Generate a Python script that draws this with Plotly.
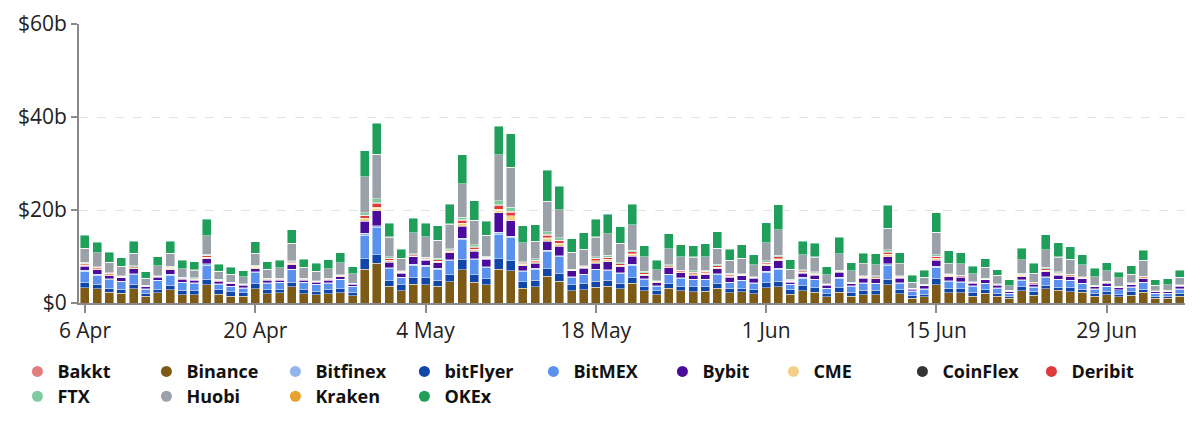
import plotly.graph_objects as go
import pandas as pd

# ---- data (USD billions, daily) ----
dates = pd.date_range("2020-04-06", periods=91, freq="D")

binance = [3.3,3.1,2.3,2.1,3.1,1.5,2.2,2.8,1.8,1.8,3.9,1.9,1.5,1.5,3.1,
           2.0,2.2,3.5,2.0,1.8,2.0,2.2,1.6,7.3,8.5,3.6,2.6,4.0,3.9,3.6,4.6,
           7.2,4.5,3.9,7.3,6.9,3.2,3.5,5.8,4.7,2.6,2.8,3.4,3.6,3.1,4.2,
           2.6,1.8,3.2,2.6,2.4,2.5,3.2,2.2,2.4,2.0,3.3,3.5,1.9,2.6,2.3,
           1.3,2.3,1.5,1.8,1.8,3.9,2.0,1.0,1.3,3.9,2.2,2.2,1.5,2.1,1.5,
           1.0,2.6,1.7,3.1,2.7,2.4,2.3,1.5,1.8,1.3,1.7,2.3,1.0,1.0,1.5]
bitflyer = [1.1,0.9,0.9,0.9,0.9,0.6,0.7,1.0,0.9,0.8,1.2,0.9,0.9,0.7,1.0,
            0.9,0.7,1.0,0.9,0.7,0.9,0.9,0.7,2.2,1.9,1.2,1.3,1.5,1.5,1.3,1.6,
            2.2,1.6,1.3,2.2,2.2,1.4,1.4,1.6,1.7,1.3,1.4,1.3,1.3,1.2,1.2,
            0.9,0.8,0.9,1.0,1.1,1.0,1.0,1.0,0.7,0.8,1.1,1.2,0.9,1.1,1.0,
            0.7,1.1,0.7,0.9,0.8,1.2,0.9,0.6,0.6,1.4,1.0,0.9,0.7,0.7,0.6,
            0.5,0.9,0.7,0.7,0.7,0.9,0.7,0.6,0.7,0.6,0.7,0.7,0.5,0.4,0.6]
bitmex = [2.4,2.0,1.85,1.55,2.1,0.9,1.85,2.2,1.65,1.65,3.05,1.2,1.1,1.0,2.4,
          1.4,1.45,2.6,1.5,1.4,1.4,1.85,1.2,5.1,5.75,2.6,1.5,2.6,2.5,2.4,2.85,
          4.15,3.15,2.4,5.3,4.9,2.1,2.4,3.6,3.5,1.65,1.85,2.4,2.1,2.05,2.7,
          1.55,1.0,1.95,1.65,1.5,1.5,1.95,1.2,1.65,1.5,2.2,2.6,1.1,1.65,1.65,
          1.1,1.95,1.4,1.55,1.5,3.05,1.4,0.9,1.1,2.4,1.5,1.4,1.4,1.3,1.1,
          0.55,1.4,1.0,1.75,1.6,1.5,1.2,0.9,1.0,0.9,1.0,1.4,0.55,0.65,0.9]
bitfinex = [0.2,0.2,0.15,0.15,0.2,0.1,0.15,0.2,0.15,0.15,0.25,0.1,0.1,0.1,0.2,
            0.1,0.15,0.2,0.1,0.1,0.1,0.15,0.1,0.4,0.45,0.2,0.1,0.2,0.2,0.2,0.25,
            0.35,0.25,0.2,0.4,0.4,0.2,0.2,0.3,0.3,0.15,0.15,0.2,0.2,0.15,0.2,
            0.15,0.1,0.15,0.15,0.1,0.1,0.15,0.1,0.15,0.1,0.2,0.2,0.1,0.15,0.15,
            0.1,0.15,0.1,0.15,0.1,0.25,0.1,0.1,0.1,0.2,0.1,0.1,0.1,0.1,0.1,
            0.05,0.1,0.1,0.15,0.1,0.1,0.1,0.1,0.1,0.1,0.1,0.1,0.05,0.05,0.1]
bybit = [0.9,1.0,0.7,0.7,1.1,0.4,0.6,1.0,0.6,0.5,1.1,0.6,0.6,0.5,0.7,
         0.5,0.4,0.9,0.4,0.5,0.5,0.6,0.4,2.6,3.2,1.2,0.9,1.6,1.1,1.2,1.5,
         2.6,1.6,1.6,4.2,3.3,1.1,1.1,2.0,2.0,1.2,1.3,1.3,1.7,1.3,1.8,
         0.7,0.7,1.4,1.1,0.9,1.0,1.1,1.0,1.0,0.9,1.2,1.6,0.5,0.9,0.9,
         0.6,1.1,0.4,0.9,1.0,1.5,0.9,0.4,0.6,1.3,0.9,0.9,0.5,0.8,0.5,
         0.3,0.7,0.5,1.0,0.9,0.8,0.9,0.4,0.7,0.4,0.4,0.7,0.4,0.4,0.5]
cme = [0.25,0.18,0.2,0.15,0.18,0.1,0.12,0.22,0.12,0.15,0.3,0.12,0.1,0.1,0.2,
       0.12,0.12,0.28,0.12,0.1,0.12,0.12,0.1,0.5,0.6,0.35,0.18,0.2,0.22,0.28,0.25,
       0.55,0.42,0.2,0.6,0.85,0.28,0.25,0.6,0.55,0.12,0.15,0.45,0.4,0.28,0.4,
       0.25,0.12,0.18,0.18,0.28,0.3,0.25,0.28,0.12,0.12,0.32,0.35,0.18,0.24,0.2,
       0.1,0.15,0.12,0.18,0.2,0.45,0.18,0.06,0.1,0.35,0.18,0.15,0.12,0.1,0.12,
       0.1,0.2,0.15,0.3,0.2,0.15,0.12,0.1,0.12,0.1,0.15,0.18,0.03,0.06,0.1]
kraken = [0.05,0.04,0.03,0.03,0.04,0.02,0.02,0.04,0.02,0.03,0.06,0.02,0.02,0.02,0.04,
          0.02,0.02,0.05,0.02,0.02,0.02,0.02,0.02,0.11,0.15,0.07,0.04,0.04,0.04,0.05,0.05,
          0.12,0.08,0.04,0.16,0.2,0.05,0.05,0.12,0.11,0.02,0.03,0.08,0.08,0.05,0.08,
          0.05,0.02,0.04,0.04,0.05,0.06,0.05,0.05,0.02,0.02,0.07,0.07,0.04,0.05,0.04,
          0.02,0.03,0.02,0.04,0.04,0.09,0.04,0.01,0.02,0.07,0.04,0.03,0.02,0.02,0.02,
          0.02,0.04,0.03,0.06,0.04,0.03,0.02,0.02,0.02,0.02,0.03,0.04,0.01,0.01,0.02]
deribit = [0.28,0.18,0.18,0.15,0.18,0.09,0.12,0.2,0.12,0.15,0.32,0.12,0.09,0.09,0.22,
           0.12,0.12,0.27,0.12,0.09,0.12,0.12,0.09,0.56,0.8,0.36,0.18,0.21,0.21,0.27,0.28,
           0.6,0.42,0.21,0.85,0.8,0.27,0.27,0.6,0.54,0.12,0.15,0.42,0.42,0.27,0.39,
           0.27,0.12,0.18,0.18,0.27,0.3,0.27,0.27,0.12,0.12,0.33,0.38,0.18,0.24,0.21,
           0.09,0.15,0.12,0.18,0.21,0.48,0.18,0.06,0.09,0.38,0.18,0.15,0.12,0.09,0.12,
           0.09,0.21,0.15,0.3,0.21,0.15,0.12,0.09,0.12,0.09,0.15,0.18,0.03,0.06,0.09]
bakkt = [0.05,0.04,0.04,0.03,0.04,0.02,0.03,0.04,0.03,0.03,0.06,0.03,0.02,0.02,0.04,
         0.03,0.03,0.05,0.03,0.02,0.03,0.03,0.02,0.1,0.16,0.07,0.04,0.04,0.04,0.05,0.05,
         0.12,0.08,0.04,0.15,0.17,0.05,0.05,0.12,0.11,0.03,0.03,0.08,0.08,0.05,0.08,
         0.05,0.03,0.04,0.04,0.05,0.06,0.05,0.05,0.03,0.03,0.07,0.07,0.04,0.05,0.04,
         0.02,0.03,0.03,0.04,0.04,0.09,0.04,0.01,0.02,0.07,0.04,0.03,0.03,0.02,0.03,
         0.02,0.04,0.03,0.06,0.04,0.03,0.03,0.02,0.03,0.02,0.03,0.04,0.01,0.01,0.02]
ftx = [0.26,0.15,0.14,0.13,0.15,0.07,0.1,0.19,0.1,0.13,0.25,0.1,0.07,0.07,0.19,
       0.1,0.1,0.24,0.1,0.07,0.1,0.1,0.07,0.5,0.87,0.34,0.15,0.2,0.18,0.24,0.26,
       0.58,0.39,0.2,0.82,0.86,0.24,0.27,0.54,0.47,0.1,0.13,0.36,0.4,0.24,0.34,
       0.27,0.1,0.15,0.15,0.24,0.27,0.27,0.24,0.1,0.1,0.3,0.32,0.15,0.21,0.2,
       0.07,0.13,0.1,0.15,0.2,0.46,0.15,0.06,0.07,0.32,0.15,0.13,0.1,0.07,0.1,
       0.07,0.2,0.13,0.27,0.2,0.13,0.12,0.07,0.1,0.07,0.13,0.15,0.02,0.06,0.07]
huobi = [3.0,3.0,2.3,2.0,2.7,1.5,2.1,2.8,1.9,1.7,4.0,1.7,1.7,1.5,2.6,
         2.0,2.3,3.8,2.4,2.0,2.1,2.6,2.0,7.8,9.6,4.2,2.6,4.5,4.4,3.9,5.3,
         7.2,5.3,4.5,9.9,8.6,4.1,3.8,6.6,6.1,3.6,3.6,4.2,4.6,4.2,5.4,
         3.2,2.4,3.5,2.9,3.0,2.9,3.5,2.8,3.3,2.5,3.9,5.5,2.2,3.2,3.2,
         2.0,3.5,2.4,2.6,2.3,4.6,2.6,1.3,1.5,4.8,2.2,2.4,1.7,2.4,1.8,
         1.0,2.9,1.9,3.8,3.2,3.2,2.6,1.9,2.2,1.8,1.8,3.4,1.2,1.2,1.6]
coinflex = [0.01,0.01,0.01,0.01,0.01,0.0,0.01,0.01,0.01,0.01,0.01,0.01,0.0,0.0,0.01,
            0.01,0.01,0.01,0.01,0.0,0.01,0.01,0.0,0.02,0.02,0.01,0.01,0.01,0.01,0.01,0.01,
            0.02,0.01,0.01,0.02,0.02,0.01,0.01,0.02,0.02,0.01,0.01,0.01,0.01,0.01,0.01,
            0.01,0.01,0.01,0.01,0.01,0.01,0.01,0.01,0.01,0.01,0.01,0.01,0.01,0.01,0.01,
            0.0,0.01,0.01,0.01,0.01,0.02,0.01,0.0,0.0,0.01,0.01,0.01,0.01,0.0,0.01,
            0.0,0.01,0.01,0.01,0.01,0.01,0.01,0.0,0.01,0.0,0.01,0.01,0.0,0.0,0.0]
okex = [2.8,2.3,2.1,1.8,2.6,1.4,1.9,2.6,1.8,1.8,3.5,1.5,1.5,1.3,2.5,
        1.6,1.6,2.9,1.7,1.8,1.9,2.1,1.5,5.5,6.7,2.9,2.0,3.1,2.8,3.1,4.2,
        6.2,4.2,3.0,6.1,7.2,3.6,3.5,6.6,5.0,2.9,3.5,3.8,4.2,3.5,4.4,
        2.3,2.0,3.2,2.5,2.4,2.7,3.5,2.4,2.9,2.2,4.3,5.3,2.0,2.9,2.9,
        1.7,3.5,1.8,2.2,2.4,4.9,2.3,1.5,1.5,4.2,2.7,2.4,1.6,1.8,1.1,
        1.3,2.5,2.1,3.2,3.1,2.7,2.2,1.8,1.8,1.2,1.8,2.1,1.2,1.3,1.5]

x_tick_dates = ["2020-04-06", "2020-04-20", "2020-05-04", "2020-05-18",
                "2020-06-01", "2020-06-15", "2020-06-29"]
x_tick_labels = ["6 Apr", "20 Apr", "4 May", "18 May", "1 Jun", "15 Jun", "29 Jun"]
y_tick_vals = [0, 20, 40, 60]
y_tick_labels = ["$0", "$20b", "$40b", "$60b"]

colors = {
    "Bakkt": "#e27d7d", "Binance": "#7d5a16", "Bitfinex": "#93b5ea",
    "bitFlyer": "#0f46a8", "BitMEX": "#5a90ee", "Bybit": "#4a0c9c",
    "CME": "#f3cf88", "CoinFlex": "#333333", "Deribit": "#e03b3b",
    "FTX": "#7fcba0", "Huobi": "#9aa1a8", "Kraken": "#e8a22f", "OKEx": "#1f9f5a",
}

# stacking order, bottom to top
stack = [("Binance", binance), ("bitFlyer", bitflyer), ("BitMEX", bitmex),
         ("Bitfinex", bitfinex), ("Bybit", bybit), ("CME", cme),
         ("Kraken", kraken), ("Deribit", deribit), ("Bakkt", bakkt),
         ("FTX", ftx), ("Huobi", huobi), ("CoinFlex", coinflex), ("OKEx", okex)]
# legend rows (alphabetical, 9 per row)
legend_row1a = ["Bakkt", "Binance", "Bitfinex", "bitFlyer", "BitMEX", "Bybit"]
legend_row1b = ["CME", "CoinFlex", "Deribit"]
legend_row2 = ["FTX", "Huobi", "Kraken", "OKEx"]

for name, vals in stack:
    assert len(vals) == len(dates), name

fig = go.Figure()
for name, vals in stack:
    fig.add_trace(go.Bar(
        x=dates, y=vals, name=name, showlegend=False,
        marker=dict(color=colors[name], line=dict(color="rgba(255,255,255,0.55)", width=0.8)),
    ))
for lg, names in (("legend", legend_row1a), ("legend3", legend_row1b), ("legend2", legend_row2)):
    for name in names:
        fig.add_trace(go.Scatter(
            x=[None], y=[None], mode="markers", name=name, legend=lg,
            marker=dict(symbol="circle", size=11, color=colors[name]),
        ))

legend_common = dict(
    orientation="h", xref="container", yref="container",
    xanchor="left", yanchor="top",
    traceorder="normal",
    font=dict(size=18, color="#111111", weight="bold"),
    entrywidth=84, entrywidthmode="pixels",
    itemclick=False, tracegroupgap=0, bgcolor="rgba(0,0,0,0)",
)

fig.update_layout(
    width=1200, height=421,
    margin=dict(l=79, r=15, t=24, b=118, autoexpand=False),
    barmode="stack", bargap=0.26,
    plot_bgcolor="white", paper_bgcolor="white",
    font=dict(family="Open Sans", size=20, color="#222222"),
    legend=dict(legend_common, x=0.0145, y=0.161),
    legend3=dict(legend_common, x=0.6445, y=0.161),
    legend2=dict(legend_common, x=0.0145, y=0.102),
    xaxis=dict(
        type="date", automargin=False,
        range=["2020-04-05 12:15", "2020-07-05 10:30"],
        tickvals=x_tick_dates, ticktext=x_tick_labels,
        showline=True, linecolor="#8a8a8a", linewidth=2,
        ticks="outside", ticklen=8, tickwidth=2, tickcolor="#8a8a8a",
        showgrid=False, tickfont=dict(size=21, color="#222222"),
    ),
    yaxis=dict(
        automargin=False,
        range=[0, 60], tickvals=y_tick_vals, ticktext=y_tick_labels,
        showline=True, linecolor="#8a8a8a", linewidth=2,
        ticks="outside", ticklen=6, tickwidth=2, tickcolor="#8a8a8a",
        showgrid=True, gridcolor="#e3e3e3", griddash="dash", gridwidth=1,
        zeroline=False, tickfont=dict(size=21, color="#222222"),
    ),
)

fig.write_html("out.html")
